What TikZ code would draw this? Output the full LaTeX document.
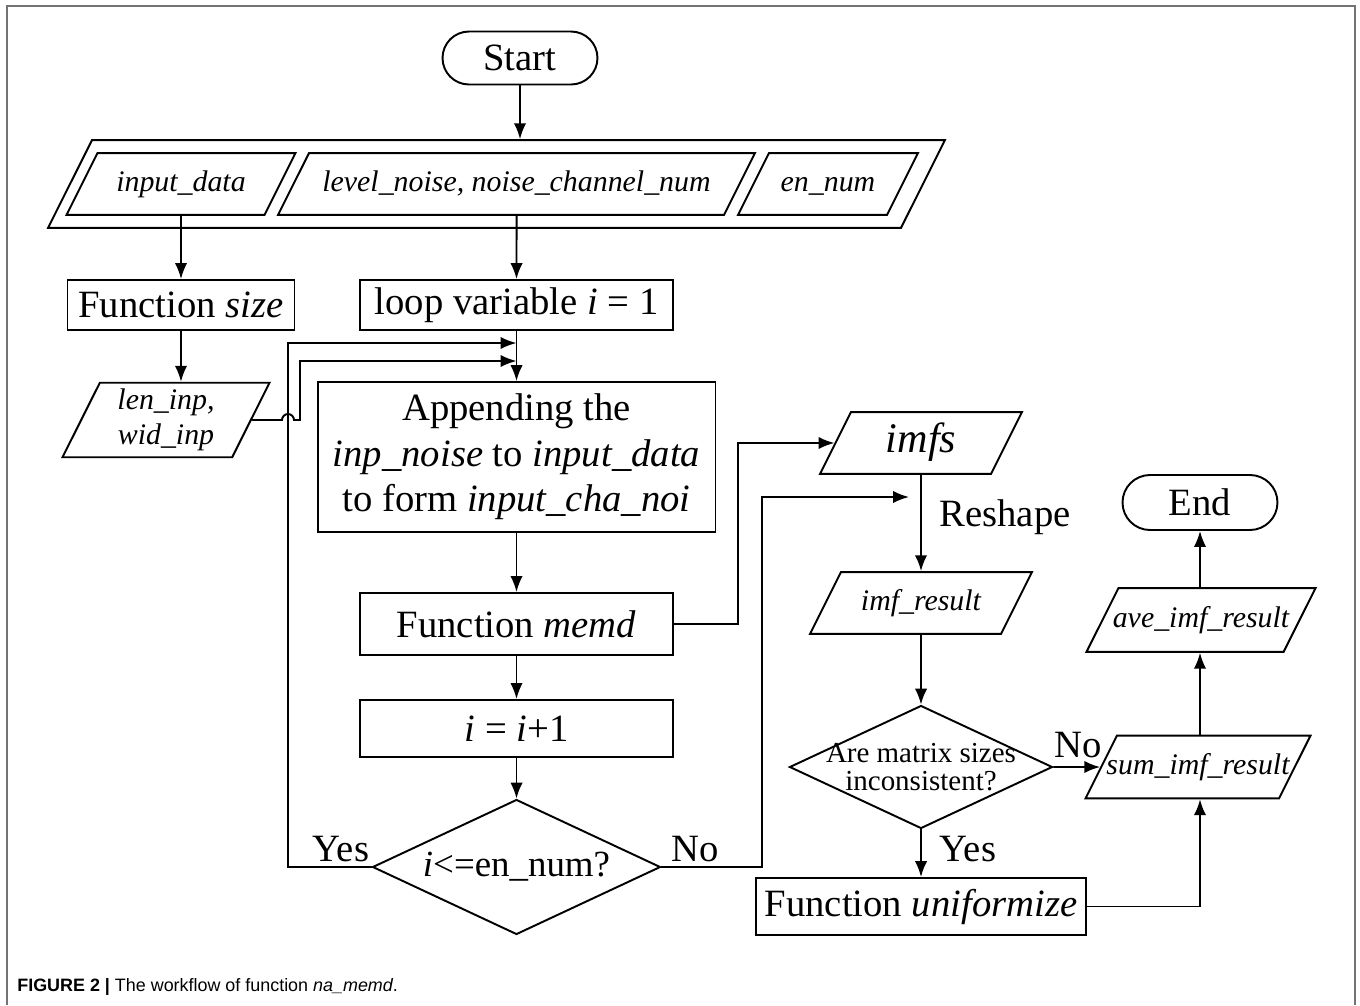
\documentclass[tikz,border=0pt]{standalone}
\usepackage{fontspec}
\setmainfont{Liberation Serif}
\newfontfamily\capfont{Liberation Sans}
\usetikzlibrary{shapes.geometric,shapes.misc,arrows.meta}

\begin{document}
\begin{tikzpicture}[x=0.02cm,y=-0.02cm]
        \tikzstyle{block} = [rectangle, draw=black, line width=1.1pt, text=black, text centered, inner sep=0pt, font=\fontsize{22}{26}\selectfont]
        \tikzstyle{term} = [rounded rectangle, draw=black, line width=1.1pt, inner sep=0pt, font=\fontsize{22}{26}\selectfont, minimum width=3.1cm, minimum height=1.06cm]
        \tikzstyle{io} = [trapezium, trapezium left angle=63.4, trapezium right angle=116.6, trapezium stretches body=true, draw=black, line width=1.1pt, inner xsep=2pt, inner ysep=9.6pt, text height=12pt, text depth=4pt, align=center, font=\fontsize{17}{20}\selectfont\itshape]
        \tikzstyle{decision} = [diamond, draw=black, line width=1.1pt, inner sep=0pt, align=center, aspect=2.13]
        \tikzstyle{line} = [-{Latex[length=9pt,width=7pt]},draw=black,line width=1.1pt]
        \tikzstyle{lbl} = [inner sep=0pt, font=\fontsize{22}{26}\selectfont]
        \useasboundingbox (0,0) rectangle (1360,1005);
        \draw[black!55, line width=1.2pt] (7,1005) -- (7,6) -- (1355,6) -- (1355,1005);
        \node[term] (start) at (520,58) {Start};
        \node[io, minimum width=17.94cm, inner ysep=16.95pt] (inbox) at (496.5,184) {\phantom{x}};
        \node[io, minimum width=4.58cm] (indata) at (181,184) {input\_data};
        \node[io, minimum width=9.54cm] (lvlnoise) at (516.5,184) {level\_noise, noise\_channel\_num};
        \node[io, minimum width=3.6cm] (ennum) at (828,184) {en\_num};
        \node[block, minimum width=4.54cm, minimum height=1cm] (fsize) at (181,305) {Function \textit{size}};
        \node[block, minimum width=6.26cm, minimum height=1cm] (loopvar) at (516.5,305) {loop variable \textit{i} = 1};
        \node[io, minimum width=4.14cm, text height=, text depth=, inner ysep=3.5pt] (leninp) at (166,420) {len\_inp,\\wid\_inp};
        \node[block, minimum width=7.96cm, minimum height=3cm, align=center] (append) at (516.5,457) {Appending the\\\textit{inp\_noise} to \textit{input\_data}\\to form \textit{input\_cha\_noi}};
        \node[block, minimum width=6.26cm, minimum height=1.24cm] (memd) at (516.5,624) {Function \textit{memd}};
        \node[block, minimum width=6.26cm, minimum height=1.14cm] (incr) at (516.5,728.5) {\textit{i} = \textit{i}+1};
        \node[decision, minimum width=5.76cm, minimum height=2.7cm, font=\fontsize{21}{24}\selectfont] (cond) at (516.5,867) {\textit{i}<=en\_num?};
        \node[io, minimum width=4.04cm, text height=16pt, text depth=5pt, inner ysep=7.1pt, font=\fontsize{24}{26}\selectfont\itshape] (imfs) at (921,443) {imfs};
        \node[io, minimum width=4.44cm] (imfres) at (921,603) {imf\_result};
        \node[decision, minimum width=5.26cm, minimum height=2.46cm, font=\fontsize{16.5}{15.5}\selectfont] (sizes) at (921,767) {\makebox[2.5cm]{Are matrix sizes}\\\makebox[2.5cm]{inconsistent?}};
        \node[block, minimum width=6.6cm, minimum height=1.14cm] (unif) at (921,906.5) {Function \textit{uniformize}};
        \node[io, minimum width=4.5cm, inner ysep=9.85pt, inner xsep=-6pt] (sumres) at (1198,767) {sum\_imf\_result};
        \node[io, minimum width=4.58cm, inner ysep=10.1pt, inner xsep=-5.5pt] (averes) at (1201,620) {ave\_imf\_result};
        \node[term, minimum height=1.1cm] (end) at (1200,502.5) {End};
        \node[lbl] (yes1) at (341,849) {Yes};
        \node[lbl] (no1) at (695,849) {No};
        \node[lbl] (reshape) at (1005,517) {Reshape};
        \node[lbl] (yes2) at (968,849) {Yes};
        \node[lbl] (no2) at (1078,745) {No};
        \node[anchor=west, inner sep=0pt, font=\capfont\fontsize{10.2}{12}\selectfont] (caption) at (17,987) {\textbf{FIGURE 2 |} The workflow of function \textit{na\_memd}.};
        \coordinate (j1) at (516.5,343);
        \coordinate (j2) at (516.5,361);
        \coordinate (j3) at (909,497);
        \draw[line] (start.south) -- (start.south |- inbox.north);
        \draw[line] (indata.south) -- (fsize.north);
        \draw[line] (lvlnoise.south) -- (loopvar.north);
        \draw[line] (fsize.south) -- (fsize.south |- leninp.north);
        \draw[line] (loopvar.south) -- (append.north);
        \draw[line] (leninp.east) -- (282,420) arc[start angle=180,end angle=0,radius=0.12cm] -- (300,420) -- (300,361) -- (j2);
        \draw[line] (cond.west) -| (288,343) -- (j1);
        \draw[line] (append.south) -- (memd.north);
        \draw[line] (memd.south) -- (incr.north);
        \draw[line] (incr.south) -- (cond.north);
        \draw[line] (memd.east) -- ++(64,0) |- (imfs.west);
        \draw[line] (cond.east) -| (762,497) -- (j3);
        \draw[line] (imfs.south) -- (imfres.north);
        \draw[line] (imfres.south) -- (sizes.north);
        \draw[line] (sizes.south) -- (unif.north);
        \draw[line] (sizes.east) -- (sumres.west);
        \draw[line] (unif.east) -| (end.south |- sumres.south);
        \draw[line] (sumres.north -| end.south) -- (end.south |- averes.south);
        \draw[line] (averes.north -| end.south) -- (end.south);
\end{tikzpicture}
\end{document}
